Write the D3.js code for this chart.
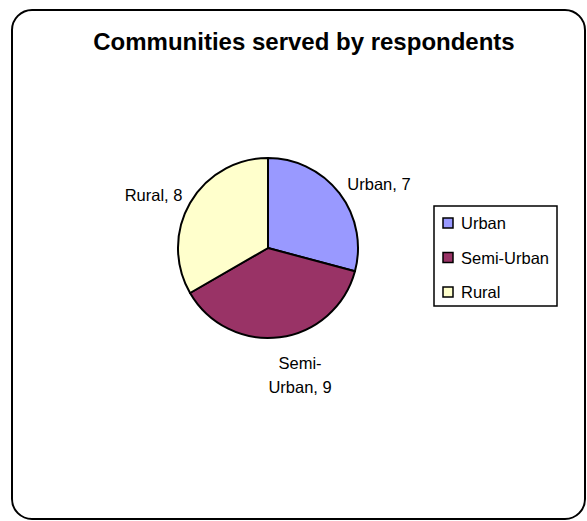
<!DOCTYPE html>
<html>
<head>
<meta charset="utf-8">
<script src="https://cdn.jsdelivr.net/npm/d3@7"></script>
<style>
  html, body { margin: 0; padding: 0; background: #fff; }
  svg { display: block; }
  text { font-family: "Liberation Sans", Arial, sans-serif; fill: #000; }
</style>
</head>
<body>
<svg id="chart" width="587" height="521"></svg>
<script>
// Chart data
const categories = ["Urban", "Semi-Urban", "Rural"];
const counts = [7, 9, 8];
const sliceColors = ["#9999FF", "#993366", "#FFFFCC"];
const chartTitle = "Communities served by respondents";

const svg = d3.select("#chart");

// Outer frame with rounded corners
svg.append("rect")
  .attr("x", 12).attr("y", 10)
  .attr("width", 573).attr("height", 509)
  .attr("rx", 20).attr("ry", 20)
  .attr("fill", "#fff")
  .attr("stroke", "#000")
  .attr("stroke-width", 2);

// Title
svg.append("text")
  .attr("x", 304).attr("y", 50)
  .attr("text-anchor", "middle")
  .style("font-size", "24px")
  .style("font-weight", "bold")
  .text(chartTitle);

// Pie
const cx = 268, cy = 248, radius = 90;
const rows = categories.map((c, i) => ({ category: c, value: counts[i], color: sliceColors[i] }));

const pie = d3.pie().sort(null).value(d => d.value).startAngle(0).endAngle(2 * Math.PI);
const arcs = pie(rows);
const arc = d3.arc().innerRadius(0).outerRadius(radius);

const g = svg.append("g").attr("transform", `translate(${cx},${cy})`);
g.selectAll("path.slice")
  .data(arcs)
  .enter().append("path")
  .attr("class", "slice")
  .attr("d", arc)
  .attr("fill", d => d.data.color)
  .attr("stroke", "#000")
  .attr("stroke-width", 2)
  .attr("stroke-linejoin", "round");

// Data labels placed just outside each slice
const labelArc = d3.arc().innerRadius(100).outerRadius(100);
const labelFont = 16.5;
g.selectAll("text.lbl")
  .data(arcs)
  .enter().append("text")
  .attr("class", "lbl")
  .style("font-size", labelFont + "px")
  .each(function (d) {
    const [x, y] = labelArc.centroid(d);
    const mid = (d.startAngle + d.endAngle) / 2;
    const t = d3.select(this);
    const s = Math.sin(mid), c = -Math.cos(mid);
    if (c > 0.8) {
      // bottom label wraps on two lines
      const [a, b] = d.data.category.split("-");
      const parts = [a + "-", b + ", " + d.data.value];
      t.attr("text-anchor", "middle");
      parts.forEach((p, i) => {
        t.append("tspan").attr("x", x + 19).attr("y", y + 22 + i * 24).text(p);
      });
    } else {
      t.attr("x", s > 0 ? x : x + 1)
       .attr("y", y + 3)
       .attr("text-anchor", s > 0 ? "start" : "end")
       .text(d.data.category + ", " + d.data.value);
    }
  });

// Legend
const legX = 434, legY = 206, legW = 123, legH = 100;
const legend = svg.append("g");
legend.append("rect")
  .attr("x", legX).attr("y", legY)
  .attr("width", legW).attr("height", legH)
  .attr("fill", "#fff")
  .attr("stroke", "#000")
  .attr("stroke-width", 1.5);

const legScale = d3.scalePoint().domain(categories).range([legY + 17, legY + 86]);
const items = legend.selectAll("g.item")
  .data(rows)
  .enter().append("g")
  .attr("class", "item")
  .attr("transform", d => `translate(${legX + 9},${legScale(d.category)})`);
items.append("rect")
  .attr("x", 0).attr("y", -5)
  .attr("width", 10).attr("height", 10)
  .attr("fill", d => d.color)
  .attr("stroke", "#000")
  .attr("stroke-width", 1.5);
items.append("text")
  .attr("x", 18).attr("y", 6)
  .style("font-size", "16.5px")
  .text(d => d.category);
</script>
</body>
</html>
